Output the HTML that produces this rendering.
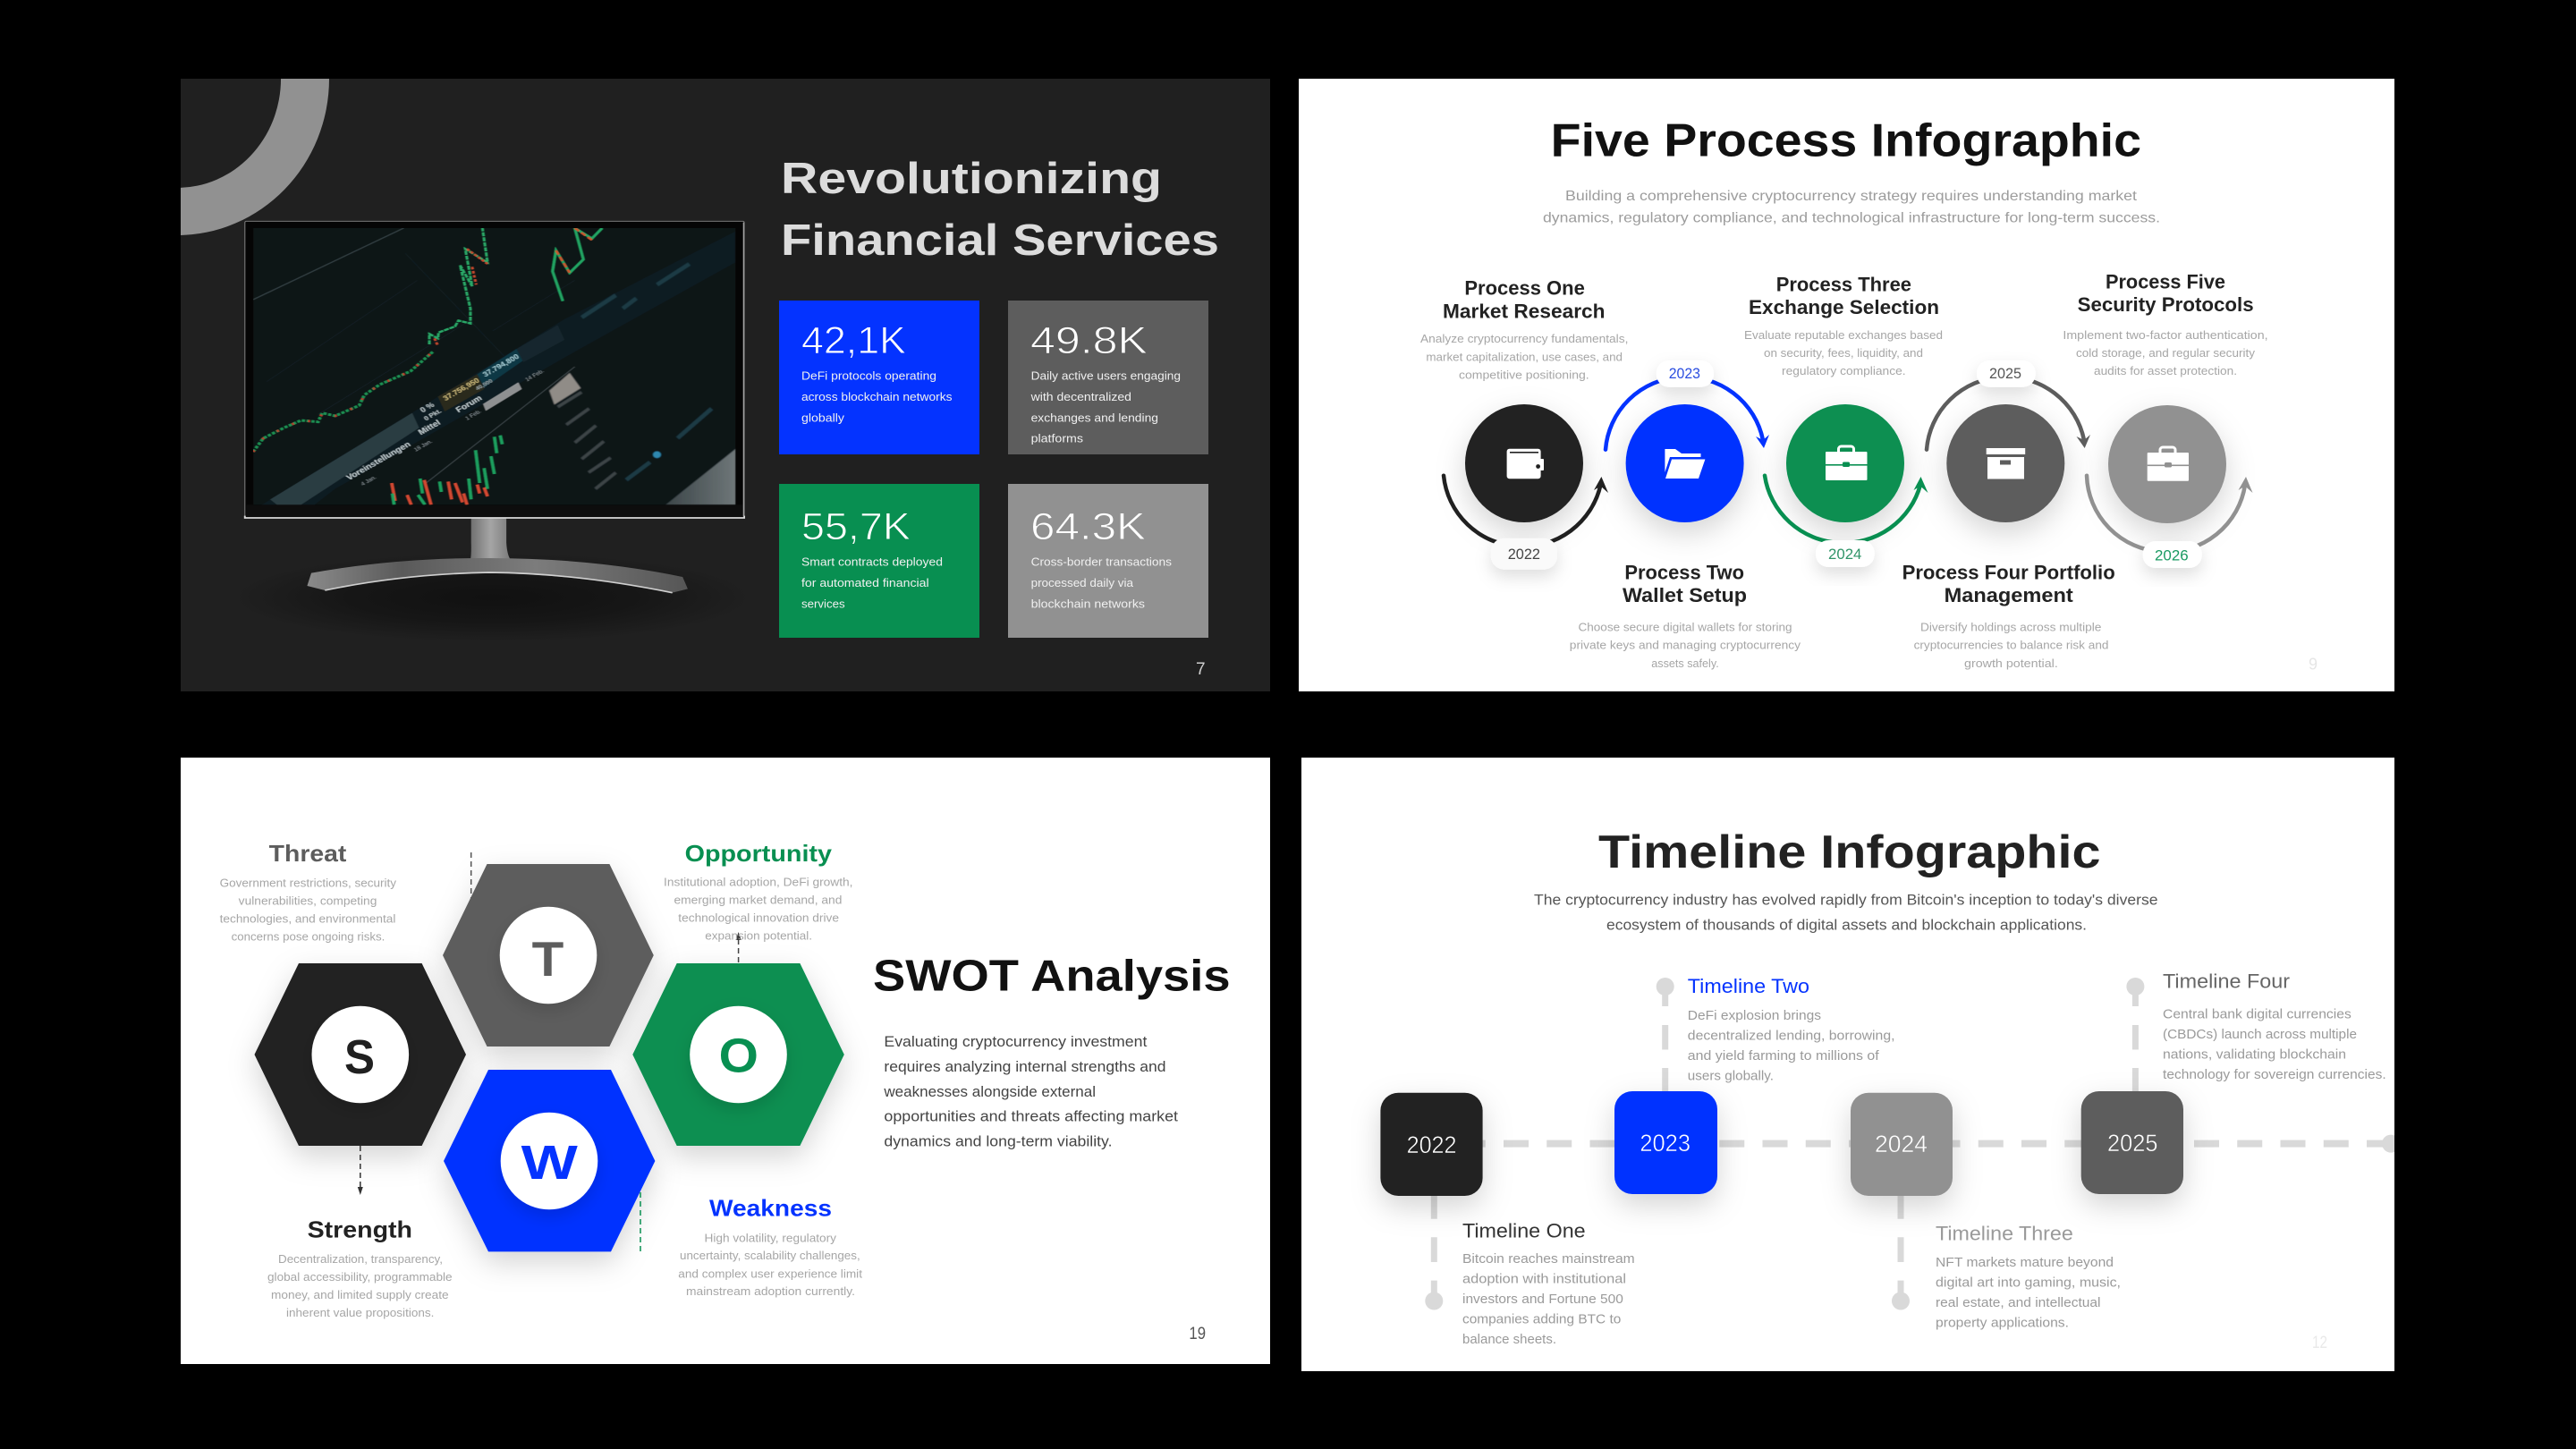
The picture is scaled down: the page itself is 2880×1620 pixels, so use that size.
<!DOCTYPE html>
<html><head><meta charset="utf-8"><title>Crypto slides</title>
<style>
html,body{margin:0;padding:0;background:#000;width:2880px;height:1620px;overflow:hidden}
svg{display:block}
text{font-family:"Liberation Sans",sans-serif}
.b{font-weight:700}
.h{font-weight:700;font-size:22px;fill:#222}
.d{font-size:13px;fill:#a6a6a6}
.w{font-size:13px;fill:#f0f0f0}
.n{font-size:43px;fill:#fff;stroke-width:.9}
.y{font-size:27px;fill:#fff;stroke-width:.5}
.t{font-size:14.5px;fill:#9a9a9a}
</style></head><body>
<svg xmlns="http://www.w3.org/2000/svg" width="2880" height="1620" viewBox="0 0 2880 1620">
<defs>
<filter id="sh" x="-50%" y="-50%" width="200%" height="220%"><feDropShadow dx="0" dy="12" stdDeviation="16" flood-color="#000" flood-opacity=".17"/></filter>
<filter id="sh2" x="-50%" y="-50%" width="200%" height="220%"><feDropShadow dx="0" dy="8" stdDeviation="9" flood-color="#000" flood-opacity=".13"/></filter>
<filter id="sb"><feGaussianBlur stdDeviation="1.5"/></filter>
<filter id="sb1" x="0" y="0" width="100%" height="100%"><feGaussianBlur stdDeviation="1.1"/></filter>
<clipPath id="c1"><rect x="202" y="88" width="1218" height="685"/></clipPath>
<clipPath id="c4"><rect x="1455" y="847" width="1222" height="686"/></clipPath>
<clipPath id="scr"><rect x="60" y="75" width="1410" height="928"/></clipPath>
<radialGradient id="mshadow"><stop offset="0" stop-color="#0e0e0e" stop-opacity=".85"/><stop offset=".55" stop-color="#0e0e0e" stop-opacity=".55"/><stop offset="1" stop-color="#0e0e0e" stop-opacity="0"/></radialGradient>
<linearGradient id="neck" x1="0" x2="1" y1="0" y2="0"><stop offset="0" stop-color="#6f6f6f"/><stop offset=".5" stop-color="#a5a5a5"/><stop offset="1" stop-color="#7a7a7a"/></linearGradient>
<linearGradient id="base" x1="0" x2="1" y1="0" y2="0"><stop offset="0" stop-color="#8a8a8a"/><stop offset=".25" stop-color="#5a5a5a"/><stop offset=".6" stop-color="#7c7c7c"/><stop offset="1" stop-color="#565656"/></linearGradient>
<linearGradient id="wedge" x1="0" x2="1" y1="0" y2="0"><stop offset="0" stop-color="#3c4649"/><stop offset="1" stop-color="#6e7678"/></linearGradient>
</defs>
<rect width="2880" height="1620" fill="#000"/>

<!-- SLIDE 1 -->
<g clip-path="url(#c1)">
<rect x="202" y="88" width="1218" height="685" fill="#202020"/>
<path fill-rule="evenodd" d="M198 -87A170 175 0 1 1 198 263A170 175 0 1 1 198 -87ZM198 -34A116 122 0 1 0 198 210A116 122 0 1 0 198 -34Z" fill="#919191"/>
<ellipse cx="550" cy="668" rx="290" ry="50" fill="url(#mshadow)"/>
</g>
<!-- monitor -->
<g transform="translate(260 230) scale(.38265 .33333)">
<path d="M697 1047H800V1130Q802 1170 812 1187H695Q698 1170 697 1130Z" fill="url(#neck)"/>
<path d="M230 1232Q480 1180 750 1182Q1050 1182 1315 1245L1330 1285L1285 1298Q1000 1235 750 1232Q500 1235 270 1290L218 1275Z" fill="url(#base)"/>
<path d="M270 1290Q500 1235 750 1230Q1000 1232 1285 1298" fill="none" stroke="#cfcfcf" stroke-width="5"/>
<rect x="36" y="52" width="1459" height="995" rx="4" fill="#050505" stroke="#777" stroke-width="3"/>
<path d="M36 1040V1047H1495V1040" fill="none" stroke="#d8d8d8" stroke-width="5"/>
<path d="M1493 56V1043" stroke="#aaa" stroke-width="3"/>
<rect x="40" y="1003" width="1451" height="40" fill="#0d0d0d"/>
<g clip-path="url(#scr)"><g filter="url(#sb1)">
<rect x="60" y="75" width="1410" height="928" fill="#0a1215"/>
<path d="M60 315L500 75" stroke="#303d40" stroke-width="4" fill="none"/>
<path d="M505 160L840 560M760 420L1000 250M250 700L700 380M100 590L540 250" stroke="#16252a" stroke-width="2" fill="none"/>
<polygon points="85,1003 530,690 830,478 970,380 1470,85 1470,190 1000,490 620,740 300,950 240,1003" fill="#0c1a20"/>
<polygon points="110,985 525,695 545,745 200,1003 130,1003" fill="#2b3d43"/>
<polygon points="600,640 715,565 735,615 620,690" fill="#2c2a1b"/>
<polygon points="715,565 830,480 848,520 735,610" fill="#0f3844"/>
<polygon points="830,480 950,400 970,450 850,525" fill="#16272d"/>
<text transform="translate(622 655) rotate(-33)" font-size="24" font-weight="700" fill="#c9b77a">37.756,950</text>
<text transform="translate(738 575) rotate(-33)" font-size="24" font-weight="700" fill="#9fc9d2">37.794,800</text>
<text transform="translate(340 922) rotate(-33)" font-size="27" font-weight="700" fill="#bfcbcf">Voreinstellungen</text>
<text transform="translate(550 770) rotate(-33)" font-size="27" font-weight="700" fill="#bfcbcf">Mittel</text>
<text transform="translate(660 695) rotate(-33)" font-size="27" font-weight="700" fill="#bfcbcf">Forum</text>
<text transform="translate(555 695) rotate(-33)" font-size="25" font-weight="700" fill="#b5c2c6">0 %</text>
<text transform="translate(565 722) rotate(-33)" font-size="21" font-weight="700" fill="#b5c2c6">0 Pkt.</text>
<text transform="translate(380 940) rotate(-33)" font-size="18" fill="#8a9599">4 Jan.</text>
<text transform="translate(535 825) rotate(-33)" font-size="18" fill="#8a9599">18 Jan.</text>
<text transform="translate(685 720) rotate(-33)" font-size="18" fill="#8a9599">1 Feb.</text>
<text transform="translate(860 590) rotate(-33)" font-size="18" fill="#8a9599">14 Feb.</text>
<text transform="translate(715 620) rotate(-33)" font-size="18" font-weight="700" fill="#9aa5a8">40,000</text>
<polygon points="732,665 835,592 845,615 740,688" fill="#bbb" opacity=".75"/>
<polygon points="925,620 985,560 1018,612 940,668" fill="#bdb5ad" opacity=".75" filter="url(#sb)"/>
<path d="M560 935L1000 540" stroke="#3a4446" stroke-width="3" fill="none"/>
<g stroke="#3c4446" stroke-width="11" fill="none" filter="url(#sb)">
<path d="M950 675L1020 625M975 735L1042 680M1000 795L1062 737M1020 850L1085 790M1040 895L1105 845M1060 950L1120 895"/></g>
<g stroke="#1e3a44" stroke-width="14" fill="none" filter="url(#sb)"><path d="M1020 375L1120 300M1140 345L1180 310M1240 265L1335 195M1300 780L1400 680M1150 920L1220 860"/></g>
<circle cx="1240" cy="835" r="12" fill="#2f88b0" filter="url(#sb)"/>
<polygon points="1265,1003 1470,815 1470,1003" fill="url(#wedge)" filter="url(#sb)"/>
<path d="M60 825L90 780L150 745L200 720L250 725L262 695L300 705L370 670L385 635L430 600L520 555L585 490" fill="none" stroke="#1f8f52" stroke-width="9" stroke-dasharray="9 5"/>
<path d="M60 825L90 780L150 745L200 720L250 725L262 695L300 705L370 670L385 635L430 600L520 555L585 490" fill="none" stroke="#b8402e" stroke-width="8" stroke-dasharray="6 44"/>
<path d="M575 465L575 430L600 445L602 425L650 405L660 385L695 395L695 345L665 200L700 270L680 145L745 190L730 75" fill="none" stroke="#2aa868" stroke-width="7" stroke-dasharray="14 3"/>
<path d="M590 445L600 470M685 145L745 195M700 205L712 265" fill="none" stroke="#c0492f" stroke-width="7" stroke-dasharray="9 5"/>
<path d="M965 320L935 220L945 150L985 225L1025 180L1000 75L1050 110L1080 75" fill="none" stroke="#24a463" stroke-width="8"/>
<path d="M945 150L985 225M1000 75L1050 115" fill="none" stroke="#c8572f" stroke-width="7" stroke-dasharray="16 8"/>
<g stroke-width="9" fill="none" stroke="#d24a33">
<path d="M465 930L475 990M510 970L522 1003M560 920L580 1003M630 925L640 985M650 930L672 995M675 965L685 1003M715 935L722 965M735 945L745 975"/></g>
<g stroke-width="9" fill="none" stroke="#1f9f5e">
<path d="M467 965L472 1003M548 915L555 965M542 970L562 1003M605 925L610 960M690 915L697 985M710 820L722 930M735 880L745 950M755 840L765 900M765 775L772 830M782 770L788 800"/></g>
</g></g>
</g>

<text x="873" y="216" font-size="49" class="b" fill="#dcdcdc" textLength="426" lengthAdjust="spacingAndGlyphs">Revolutionizing</text>
<text x="873" y="285" font-size="49" class="b" fill="#dcdcdc" textLength="490" lengthAdjust="spacingAndGlyphs">Financial Services</text>
<rect x="871" y="336" width="224" height="172" fill="#0433ff"/>
<rect x="1127" y="336" width="224" height="172" fill="#5d5d5d"/>
<rect x="871" y="541" width="224" height="172" fill="#088f51"/>
<rect x="1127" y="541" width="224" height="172" fill="#919191"/>
<text x="896" y="395" class="n" stroke="#0433ff" textLength="117" lengthAdjust="spacingAndGlyphs">42,1K</text>
<text x="1152" y="395" class="n" stroke="#5d5d5d" textLength="131" lengthAdjust="spacingAndGlyphs">49.8K</text>
<text x="896" y="603" class="n" stroke="#088f51" textLength="122" lengthAdjust="spacingAndGlyphs">55,7K</text>
<text x="1152" y="603" class="n" stroke="#919191" textLength="129" lengthAdjust="spacingAndGlyphs">64.3K</text>
<text x="896" y="424.5" class="w" textLength="151" lengthAdjust="spacingAndGlyphs">DeFi protocols operating</text>
<text x="896" y="448" class="w" textLength="168.5" lengthAdjust="spacingAndGlyphs">across blockchain networks</text>
<text x="896" y="471.4" class="w" textLength="48" lengthAdjust="spacingAndGlyphs">globally</text>
<text x="1152.6" y="424.5" class="w" textLength="167.4" lengthAdjust="spacingAndGlyphs">Daily active users engaging</text>
<text x="1152.6" y="448" class="w" textLength="112.4" lengthAdjust="spacingAndGlyphs">with decentralized</text>
<text x="1152.6" y="471.4" class="w" textLength="142.4" lengthAdjust="spacingAndGlyphs">exchanges and lending</text>
<text x="1152.6" y="494.7" class="w" textLength="58.4" lengthAdjust="spacingAndGlyphs">platforms</text>
<text x="896" y="632.5" class="w" textLength="158" lengthAdjust="spacingAndGlyphs">Smart contracts deployed</text>
<text x="896" y="656" class="w" textLength="142.6" lengthAdjust="spacingAndGlyphs">for automated financial</text>
<text x="896" y="679.4" class="w" textLength="48.6" lengthAdjust="spacingAndGlyphs">services</text>
<text x="1152.6" y="632.5" class="w" textLength="157.4" lengthAdjust="spacingAndGlyphs">Cross-border transactions</text>
<text x="1152.6" y="656" class="w" textLength="114.4" lengthAdjust="spacingAndGlyphs">processed daily via</text>
<text x="1152.6" y="679.4" class="w" textLength="127.4" lengthAdjust="spacingAndGlyphs">blockchain networks</text>
<text x="1337" y="754" font-size="19" fill="#cfcfcf">7</text>

<!-- SLIDE 2 -->
<rect x="1452" y="88" width="1225" height="685" fill="#fff"/>
<text x="1733.7" y="174.7" font-size="52" class="b" fill="#111" textLength="660.3" lengthAdjust="spacingAndGlyphs">Five Process Infographic</text>
<text x="1750" y="224" font-size="16" fill="#9c9c9c" textLength="639" lengthAdjust="spacingAndGlyphs">Building a comprehensive cryptocurrency strategy requires understanding market</text>
<text x="1725" y="248.6" font-size="16" fill="#9c9c9c" textLength="690" lengthAdjust="spacingAndGlyphs">dynamics, regulatory compliance, and technological infrastructure for long-term success.</text>

<circle cx="1704" cy="518" r="66" fill="#202020" filter="url(#sh)"/>
<circle cx="1883.6" cy="518" r="66" fill="#0433ff" filter="url(#sh)"/>
<circle cx="2063" cy="518" r="66" fill="#088f51" filter="url(#sh)"/>
<circle cx="2242.3" cy="518" r="66" fill="#5d5d5d" filter="url(#sh)"/>
<circle cx="2423" cy="519" r="66" fill="#919191" filter="url(#sh)"/>

<path d="M1614 531.7A89 88 0 0 0 1789.5 542" fill="none" stroke="#202020" stroke-width="4.5" stroke-linecap="round"/>
<polygon points="1790.4,533 1782,548 1789.5,543.5 1798,551" fill="#202020"/>
<path d="M1795 502.7A89 88 0 0 1 1971 492" fill="none" stroke="#0433ff" stroke-width="4.5" stroke-linecap="round"/>
<polygon points="1972,501 1963,488 1971,492 1978,486" fill="#0433ff"/>
<path d="M1973 531.7A89 88 0 0 0 2147 542" fill="none" stroke="#088f51" stroke-width="4.5" stroke-linecap="round"/>
<polygon points="2147.5,533 2139.5,548 2147,543.5 2155.5,551" fill="#088f51"/>
<path d="M2154 502.7A89 88 0 0 1 2330 492" fill="none" stroke="#5d5d5d" stroke-width="4.5" stroke-linecap="round"/>
<polygon points="2330.7,501 2321.5,488 2330,492 2337,486" fill="#5d5d5d"/>
<path d="M2333 531.7A89 88 0 0 0 2510 542" fill="none" stroke="#919191" stroke-width="4.5" stroke-linecap="round"/>
<polygon points="2511,533 2502.5,548 2510,543.5 2518.5,551" fill="#919191"/>

<rect x="1666.8" y="601.7" width="74.2" height="35" rx="15" fill="#fafafa" filter="url(#sh2)"/>
<rect x="1851.8" y="403" width="64.2" height="29.7" rx="14" fill="#fff" filter="url(#sh2)"/>
<rect x="2030" y="604" width="65.7" height="30" rx="14" fill="#fff" filter="url(#sh2)"/>
<rect x="2210" y="403" width="65.7" height="29.7" rx="14" fill="#fff" filter="url(#sh2)"/>
<rect x="2395.7" y="605" width="66" height="30" rx="14" fill="#fff" filter="url(#sh2)"/>
<text x="1685.7" y="625" font-size="17" fill="#444" textLength="36.3" lengthAdjust="spacingAndGlyphs">2022</text>
<text x="1865.7" y="423" font-size="17" fill="#2b4ee0" textLength="35.3" lengthAdjust="spacingAndGlyphs">2023</text>
<text x="2044" y="625" font-size="17" fill="#2f9468" textLength="37.4" lengthAdjust="spacingAndGlyphs">2024</text>
<text x="2224" y="423" font-size="17" fill="#555" textLength="36" lengthAdjust="spacingAndGlyphs">2025</text>
<text x="2409" y="626.7" font-size="17" fill="#1a9a62" textLength="37.7" lengthAdjust="spacingAndGlyphs">2026</text>

<!-- icons -->
<rect x="1684.6" y="501.7" width="38" height="33.5" rx="3" fill="#fff"/>
<rect x="1720" y="513" width="6" height="13" rx="1" fill="#fff"/>
<rect x="1688" y="505" width="32" height="1.6" fill="#202020"/>
<circle cx="1719.6" cy="521.5" r="2.4" fill="#202020"/>
<polygon points="1861.4,502 1873,502 1880,507 1901.5,507 1901.5,511 1867,511 1861.4,528" fill="#fff"/>
<polygon points="1869,513.5 1906.4,513.5 1899,535 1862,535" fill="#fff"/>
<rect x="2041" y="505" width="46.5" height="32" rx="1" fill="#fff"/>
<rect x="2055.5" y="499" width="17" height="10" rx="3" fill="none" stroke="#fff" stroke-width="3"/>
<rect x="2041" y="519" width="46.5" height="1.6" fill="#088f51"/>
<rect x="2060" y="516.5" width="8" height="5.5" rx="1.5" fill="#088f51"/>
<rect x="2220.7" y="501" width="43.5" height="7" fill="#fff"/>
<rect x="2222" y="511" width="41" height="24.5" fill="#fff"/>
<rect x="2236" y="514.5" width="12" height="5" fill="#5d5d5d"/>
<rect x="2400.7" y="506" width="46.3" height="31.7" rx="1" fill="#fff"/>
<rect x="2415" y="500" width="17" height="10" rx="3" fill="none" stroke="#fff" stroke-width="3"/>
<rect x="2400.7" y="519.5" width="46.3" height="1.6" fill="#919191"/>
<rect x="2420" y="517" width="8" height="5.5" rx="1.5" fill="#919191"/>

<text x="1637.4" y="329.5" class="h" textLength="134.4" lengthAdjust="spacingAndGlyphs">Process One</text>
<text x="1613" y="355.6" class="h" textLength="181.5" lengthAdjust="spacingAndGlyphs">Market Research</text>
<text x="1588" y="383" class="d" textLength="232.4" lengthAdjust="spacingAndGlyphs">Analyze cryptocurrency fundamentals,</text>
<text x="1594.4" y="403.4" class="d" textLength="219.6" lengthAdjust="spacingAndGlyphs">market capitalization, use cases, and</text>
<text x="1631" y="423.6" class="d" textLength="145.7" lengthAdjust="spacingAndGlyphs">competitive positioning.</text>
<text x="1985.7" y="325.3" class="h" textLength="151.3" lengthAdjust="spacingAndGlyphs">Process Three</text>
<text x="1955" y="351" class="h" textLength="213" lengthAdjust="spacingAndGlyphs">Exchange Selection</text>
<text x="1950" y="379" class="d" textLength="222" lengthAdjust="spacingAndGlyphs">Evaluate reputable exchanges based</text>
<text x="1972" y="399" class="d" textLength="178" lengthAdjust="spacingAndGlyphs">on security, fees, liquidity, and</text>
<text x="1992" y="419" class="d" textLength="138.6" lengthAdjust="spacingAndGlyphs">regulatory compliance.</text>
<text x="2354" y="322.6" class="h" textLength="134" lengthAdjust="spacingAndGlyphs">Process Five</text>
<text x="2322.6" y="347.8" class="h" textLength="197" lengthAdjust="spacingAndGlyphs">Security Protocols</text>
<text x="2306.4" y="379" class="d" textLength="229.2" lengthAdjust="spacingAndGlyphs">Implement two-factor authentication,</text>
<text x="2321" y="399" class="d" textLength="200" lengthAdjust="spacingAndGlyphs">cold storage, and regular security</text>
<text x="2341" y="419" class="d" textLength="160" lengthAdjust="spacingAndGlyphs">audits for asset protection.</text>
<text x="1816.4" y="647.7" class="h" textLength="133.6" lengthAdjust="spacingAndGlyphs">Process Two</text>
<text x="1814" y="673" class="h" textLength="139" lengthAdjust="spacingAndGlyphs">Wallet Setup</text>
<text x="1764.5" y="705.5" class="d" textLength="239" lengthAdjust="spacingAndGlyphs">Choose secure digital wallets for storing</text>
<text x="1754.8" y="725.7" class="d" textLength="258.2" lengthAdjust="spacingAndGlyphs">private keys and managing cryptocurrency</text>
<text x="1846.3" y="746" class="d" textLength="75.4" lengthAdjust="spacingAndGlyphs">assets safely.</text>
<text x="2126.6" y="647.7" class="h" textLength="238.1" lengthAdjust="spacingAndGlyphs">Process Four Portfolio</text>
<text x="2173.6" y="673" class="h" textLength="144.2" lengthAdjust="spacingAndGlyphs">Management</text>
<text x="2147" y="705.5" class="d" textLength="202.4" lengthAdjust="spacingAndGlyphs">Diversify holdings across multiple</text>
<text x="2139.6" y="725.7" class="d" textLength="217.9" lengthAdjust="spacingAndGlyphs">cryptocurrencies to balance risk and</text>
<text x="2196" y="746" class="d" textLength="104.8" lengthAdjust="spacingAndGlyphs">growth potential.</text>
<text x="2581" y="748.7" font-size="18" fill="#e6e6e6">9</text>

<!-- SLIDE 3 -->
<rect x="202" y="847" width="1218" height="678" fill="#fff"/>
<path d="M526.7 953V1005" stroke="#555" stroke-width="1.5" stroke-dasharray="6 4" fill="none"/>
<polygon points="284.5,1179 334,1077 471.6,1077 521,1179 471.6,1281 334,1281" fill="#202020" filter="url(#sh)"/>
<polygon points="495,1068 544.5,966 681.4,966 730.8,1068 681.4,1170 544.5,1170" fill="#5d5d5d" filter="url(#sh)"/>
<polygon points="707.3,1179 756.7,1077 894.4,1077 943.8,1179 894.4,1281 756.7,1281" fill="#088f51" filter="url(#sh)"/>
<polygon points="496,1298 546,1196 683,1196 732.4,1298 683,1399.4 546,1399.4" fill="#0433ff" filter="url(#sh)"/>
<circle cx="402.8" cy="1179" r="54.3" fill="#fff" filter="url(#sh2)"/>
<circle cx="613" cy="1068" r="54.3" fill="#fff" filter="url(#sh2)"/>
<circle cx="825.5" cy="1179" r="54.3" fill="#fff" filter="url(#sh2)"/>
<circle cx="614" cy="1298" r="54.3" fill="#fff" filter="url(#sh2)"/>
<text x="385" y="1200" font-size="54" class="b" fill="#202020" textLength="34" lengthAdjust="spacingAndGlyphs">S</text>
<text x="594.7" y="1090.8" font-size="55" class="b" fill="#5d5d5d" textLength="35.7" lengthAdjust="spacingAndGlyphs">T</text>
<text x="803.7" y="1198.7" font-size="54" class="b" fill="#088f51" textLength="44.3" lengthAdjust="spacingAndGlyphs">O</text>
<text x="582.6" y="1318" font-size="54" class="b" fill="#0433ff" textLength="63.2" lengthAdjust="spacingAndGlyphs">W</text>
<path d="M825.6 1050V1077" stroke="#444" stroke-width="1.5" stroke-dasharray="6 4"/>
<polygon points="825.6,1042 822.6,1051 828.6,1051" fill="#333"/>
<path d="M402.8 1281V1330" stroke="#333" stroke-width="1.5" stroke-dasharray="6 4"/>
<polygon points="402.8,1336 399.8,1327 405.8,1327" fill="#333"/>
<path d="M716 1333V1399" stroke="#088f51" stroke-width="1.5" stroke-dasharray="6 4"/>

<text x="300.7" y="963" font-size="26" class="b" fill="#5d5d5d" textLength="86.7" lengthAdjust="spacingAndGlyphs">Threat</text>
<text x="245.6" y="991.6" class="d" textLength="197.4" lengthAdjust="spacingAndGlyphs">Government restrictions, security</text>
<text x="266.7" y="1011.4" class="d" textLength="154.7" lengthAdjust="spacingAndGlyphs">vulnerabilities, competing</text>
<text x="245.6" y="1031.6" class="d" textLength="196.8" lengthAdjust="spacingAndGlyphs">technologies, and environmental</text>
<text x="258.6" y="1051.3" class="d" textLength="171.7" lengthAdjust="spacingAndGlyphs">concerns pose ongoing risks.</text>
<text x="765.6" y="963" font-size="26" class="b" fill="#088f51" textLength="164.4" lengthAdjust="spacingAndGlyphs">Opportunity</text>
<text x="742" y="990.7" class="d" textLength="211.5" lengthAdjust="spacingAndGlyphs">Institutional adoption, DeFi growth,</text>
<text x="753.5" y="1010.5" class="d" textLength="187.9" lengthAdjust="spacingAndGlyphs">emerging market demand, and</text>
<text x="758.3" y="1030.7" class="d" textLength="179.7" lengthAdjust="spacingAndGlyphs">technological innovation drive</text>
<text x="788.3" y="1050.4" class="d" textLength="119.7" lengthAdjust="spacingAndGlyphs">expansion potential.</text>
<text x="976" y="1107.4" font-size="49" class="b" fill="#111" textLength="399.6" lengthAdjust="spacingAndGlyphs">SWOT Analysis</text>
<text x="988.4" y="1169.8" font-size="17" fill="#444" textLength="294" lengthAdjust="spacingAndGlyphs">Evaluating cryptocurrency investment</text>
<text x="988.4" y="1197.8" font-size="17" fill="#444" textLength="315.1" lengthAdjust="spacingAndGlyphs">requires analyzing internal strengths and</text>
<text x="988.4" y="1225.8" font-size="17" fill="#444" textLength="236.6" lengthAdjust="spacingAndGlyphs">weaknesses alongside external</text>
<text x="988.4" y="1253.4" font-size="17" fill="#444" textLength="328.6" lengthAdjust="spacingAndGlyphs">opportunities and threats affecting market</text>
<text x="988.4" y="1281.4" font-size="17" fill="#444" textLength="255.1" lengthAdjust="spacingAndGlyphs">dynamics and long-term viability.</text>
<text x="343.6" y="1383.3" font-size="26" class="b" fill="#222" textLength="117.4" lengthAdjust="spacingAndGlyphs">Strength</text>
<text x="311" y="1411.8" class="d" textLength="184" lengthAdjust="spacingAndGlyphs">Decentralization, transparency,</text>
<text x="299" y="1432" class="d" textLength="206.6" lengthAdjust="spacingAndGlyphs">global accessibility, programmable</text>
<text x="303" y="1452" class="d" textLength="198.6" lengthAdjust="spacingAndGlyphs">money, and limited supply create</text>
<text x="320" y="1472" class="d" textLength="165.4" lengthAdjust="spacingAndGlyphs">inherent value propositions.</text>
<text x="793" y="1359.5" font-size="26" class="b" fill="#0433ff" textLength="137" lengthAdjust="spacingAndGlyphs">Weakness</text>
<text x="787.5" y="1388.4" class="d" textLength="147.5" lengthAdjust="spacingAndGlyphs">High volatility, regulatory</text>
<text x="760" y="1408" class="d" textLength="201.7" lengthAdjust="spacingAndGlyphs">uncertainty, scalability challenges,</text>
<text x="758.3" y="1428.3" class="d" textLength="205.7" lengthAdjust="spacingAndGlyphs">and complex user experience limit</text>
<text x="767" y="1448" class="d" textLength="189" lengthAdjust="spacingAndGlyphs">mainstream adoption currently.</text>
<text x="1329.4" y="1496.8" font-size="19" fill="#555" textLength="18.6" lengthAdjust="spacingAndGlyphs">19</text>

<!-- SLIDE 4 -->
<g clip-path="url(#c4)">
<rect x="1455" y="847" width="1222" height="686" fill="#fff"/>
<text x="1787" y="970" font-size="52" class="b" fill="#222" textLength="561.5" lengthAdjust="spacingAndGlyphs">Timeline Infographic</text>
<text x="1715" y="1011.4" font-size="16.5" fill="#555" textLength="697.5" lengthAdjust="spacingAndGlyphs">The cryptocurrency industry has evolved rapidly from Bitcoin's inception to today's diverse</text>
<text x="1796" y="1039.4" font-size="16.5" fill="#555" textLength="537" lengthAdjust="spacingAndGlyphs">ecosystem of thousands of digital assets and blockchain applications.</text>
<path d="M1632.75 1278.6H2665" stroke="#d9d9d9" stroke-width="8" stroke-dasharray="28 20.25"/>
<circle cx="2673" cy="1278.6" r="10" fill="#d9d9d9"/>
<g stroke="#d9d9d9" stroke-width="7" fill="none">
<path d="M1861.7 1103V1125M1861.7 1146V1173.5M1861.7 1194V1222"/>
<path d="M2387.4 1103V1125M2387.4 1146V1173.5M2387.4 1194V1222"/>
<path d="M1603.3 1335V1362.7M1603.3 1383.3V1411M1603.3 1431.6V1454"/>
<path d="M2125 1335V1362.7M2125 1383.3V1411M2125 1431.6V1454"/>
</g>
<circle cx="1861.7" cy="1103" r="10" fill="#d9d9d9"/>
<circle cx="2387.4" cy="1103" r="10" fill="#d9d9d9"/>
<circle cx="1603.3" cy="1454.5" r="10" fill="#d9d9d9"/>
<circle cx="2125" cy="1454.5" r="10" fill="#d9d9d9"/>
<rect x="1543.4" y="1221.7" width="114.2" height="115.3" rx="20" fill="#202020" filter="url(#sh)"/>
<rect x="1805" y="1220" width="115" height="115" rx="20" fill="#0433ff" filter="url(#sh)"/>
<rect x="2069" y="1221.7" width="114" height="115.3" rx="20" fill="#919191" filter="url(#sh)"/>
<rect x="2326.7" y="1220" width="114.3" height="115" rx="20" fill="#5d5d5d" filter="url(#sh)"/>
<text x="1572.6" y="1289" class="y" stroke="#202020" textLength="55.9" lengthAdjust="spacingAndGlyphs">2022</text>
<text x="1833.4" y="1287" class="y" stroke="#0433ff" textLength="56.6" lengthAdjust="spacingAndGlyphs">2023</text>
<text x="2096" y="1288" class="y" stroke="#919191" textLength="59" lengthAdjust="spacingAndGlyphs">2024</text>
<text x="2356" y="1287" class="y" stroke="#5d5d5d" textLength="56.5" lengthAdjust="spacingAndGlyphs">2025</text>
<text x="1886.8" y="1110" font-size="22" fill="#0433ff" textLength="136.2" lengthAdjust="spacingAndGlyphs">Timeline Two</text>
<text x="1886.8" y="1140" class="t" textLength="149.2" lengthAdjust="spacingAndGlyphs">DeFi explosion brings</text>
<text x="1886.8" y="1162.5" class="t" textLength="231.7" lengthAdjust="spacingAndGlyphs">decentralized lending, borrowing,</text>
<text x="1886.8" y="1185" class="t" textLength="213.9" lengthAdjust="spacingAndGlyphs">and yield farming to millions of</text>
<text x="1886.8" y="1207.5" class="t" textLength="96.2" lengthAdjust="spacingAndGlyphs">users globally.</text>
<text x="2418" y="1104.6" font-size="22" fill="#666" textLength="142" lengthAdjust="spacingAndGlyphs">Timeline Four</text>
<text x="2418" y="1138.6" class="t" textLength="210.8" lengthAdjust="spacingAndGlyphs">Central bank digital currencies</text>
<text x="2418" y="1161" class="t" textLength="217" lengthAdjust="spacingAndGlyphs">(CBDCs) launch across multiple</text>
<text x="2418" y="1183.6" class="t" textLength="205" lengthAdjust="spacingAndGlyphs">nations, validating blockchain</text>
<text x="2418" y="1206" class="t" textLength="249.7" lengthAdjust="spacingAndGlyphs">technology for sovereign currencies.</text>
<text x="1635" y="1383.3" font-size="22" fill="#333" textLength="137.6" lengthAdjust="spacingAndGlyphs">Timeline One</text>
<text x="1635" y="1411.8" class="t" textLength="192.7" lengthAdjust="spacingAndGlyphs">Bitcoin reaches mainstream</text>
<text x="1635" y="1434.3" class="t" textLength="183" lengthAdjust="spacingAndGlyphs">adoption with institutional</text>
<text x="1635" y="1456.8" class="t" textLength="179.8" lengthAdjust="spacingAndGlyphs">investors and Fortune 500</text>
<text x="1635" y="1479.3" class="t" textLength="177.3" lengthAdjust="spacingAndGlyphs">companies adding BTC to</text>
<text x="1635" y="1501.8" class="t" textLength="105" lengthAdjust="spacingAndGlyphs">balance sheets.</text>
<text x="2164" y="1386.6" font-size="22" fill="#9a9a9a" textLength="153.8" lengthAdjust="spacingAndGlyphs">Timeline Three</text>
<text x="2164" y="1416" class="t" textLength="199" lengthAdjust="spacingAndGlyphs">NFT markets mature beyond</text>
<text x="2164" y="1438.4" class="t" textLength="207" lengthAdjust="spacingAndGlyphs">digital art into gaming, music,</text>
<text x="2164" y="1461" class="t" textLength="184.5" lengthAdjust="spacingAndGlyphs">real estate, and intellectual</text>
<text x="2164" y="1483.5" class="t" textLength="149" lengthAdjust="spacingAndGlyphs">property applications.</text>
<text x="2585" y="1507" font-size="19" fill="#e9e9e9" textLength="17" lengthAdjust="spacingAndGlyphs">12</text>
</g>
</svg>
</body></html>
